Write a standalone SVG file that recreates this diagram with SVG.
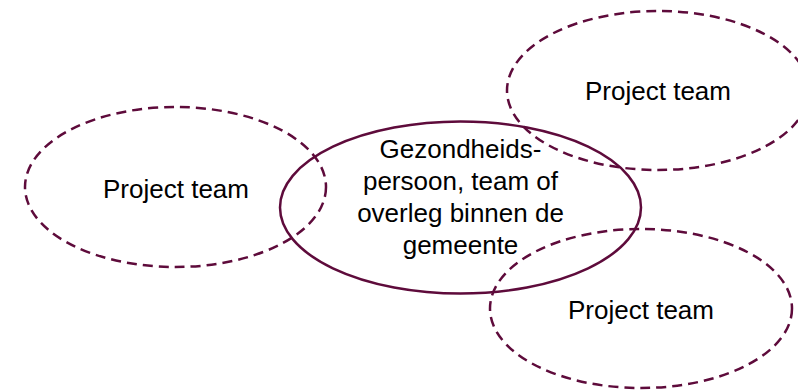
<svg xmlns="http://www.w3.org/2000/svg" width="798" height="390" viewBox="0 0 798 390">
<style>
.e{fill:none;stroke:#5e0b3b;stroke-width:2.5}
.d{stroke-dasharray:10 6}
text{font-family:"Liberation Sans",Arial,sans-serif;font-size:26px;fill:#000;text-anchor:middle}
</style>
<rect width="798" height="390" fill="#fff"/>
<g id="central">
<ellipse class="e" cx="460.5" cy="207.5" rx="180.5" ry="86"/>
<text x="460.5" y="157.5">Gezondheids-</text>
<text x="460.5" y="189.5">persoon, team of</text>
<text x="460.5" y="221.5">overleg binnen de</text>
<text x="460.5" y="253.5">gemeente</text>
</g>
<g id="team-left">
<ellipse class="e d" cx="175.5" cy="187" rx="150.5" ry="80"/>
<text x="176" y="198">Project team</text>
</g>
<g id="team-top-right">
<ellipse class="e d" cx="658" cy="90.5" rx="151" ry="79.5"/>
<text x="658" y="100">Project team</text>
</g>
<g id="team-bottom-right">
<ellipse class="e d" cx="641" cy="308.5" rx="151" ry="79.5"/>
<text x="641" y="319">Project team</text>
</g>
<g id="connectors"></g>
</svg>
